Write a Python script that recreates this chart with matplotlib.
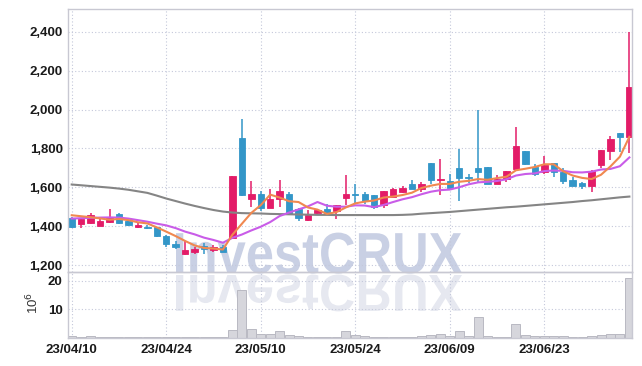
import matplotlib
matplotlib.use('Agg')
import matplotlib.pyplot as plt
import numpy as np
from matplotlib.textpath import TextPath
from matplotlib.patches import PathPatch
from matplotlib.font_manager import FontProperties
from matplotlib.transforms import Affine2D

plt.rcParams['font.family'] = ['Liberation Sans', 'DejaVu Sans']

# daily candles, 2023-04-10 .. 2023-07-06 (60 trading days)
opens = [1445, 1412, 1417, 1402, 1423, 1466, 1426, 1397, 1397, 1395,
         1353, 1309, 1257, 1268, 1298, 1281, 1293, 1342, 1853, 1539,
         1567, 1495, 1538, 1568, 1491, 1431, 1469, 1491, 1479, 1546,
         1567, 1565, 1560, 1508, 1551, 1577, 1620, 1594, 1726, 1637,
         1632, 1699, 1652, 1699, 1704, 1620, 1644, 1697, 1786, 1705,
         1680, 1723, 1680, 1637, 1623, 1608, 1714, 1786, 1880, 1859]
highs = [1447, 1445, 1471, 1443, 1488, 1471, 1428, 1417, 1409, 1397,
         1355, 1323, 1325, 1294, 1315, 1303, 1303, 1659, 1949, 1632,
         1580, 1594, 1640, 1575, 1493, 1486, 1488, 1517, 1510, 1666,
         1620, 1577, 1562, 1582, 1596, 1606, 1637, 1628, 1728, 1748,
         1668, 1795, 1668, 1997, 1706, 1662, 1685, 1911, 1788, 1719,
         1760, 1728, 1699, 1654, 1630, 1687, 1793, 1865, 1882, 2399]
lows = [1389, 1394, 1414, 1400, 1418, 1413, 1400, 1394, 1385, 1346,
        1294, 1284, 1255, 1257, 1257, 1268, 1266, 1340, 1555, 1500,
        1479, 1493, 1500, 1464, 1426, 1429, 1462, 1467, 1440, 1508,
        1517, 1513, 1491, 1496, 1549, 1569, 1592, 1577, 1620, 1560,
        1595, 1529, 1625, 1628, 1618, 1618, 1628, 1695, 1717, 1660,
        1668, 1654, 1620, 1606, 1594, 1577, 1702, 1740, 1782, 1777]
closes = [1397, 1436, 1457, 1428, 1450, 1417, 1407, 1405, 1394, 1351,
          1308, 1294, 1277, 1282, 1286, 1293, 1268, 1657, 1560, 1565,
          1495, 1539, 1580, 1466, 1443, 1457, 1486, 1469, 1508, 1565,
          1563, 1530, 1500, 1580, 1594, 1599, 1594, 1620, 1637, 1642,
          1597, 1649, 1647, 1680, 1620, 1645, 1683, 1812, 1719, 1668,
          1714, 1680, 1633, 1608, 1608, 1685, 1791, 1848, 1859, 2117]
# volume in millions of shares
volumes = [0.6, 0.15, 0.7, 0.15, 0.2, 0.15, 0.1, 0.1, 0.1, 0.15,
           0.2, 0.15, 0.2, 0.1, 0.1, 0.1, 0.15, 2.7, 16.8, 3.1,
           1.3, 1.3, 2.4, 0.9, 0.4, 0.3, 0.3, 0.3, 0.3, 2.4,
           0.9, 0.4, 0.3, 0.3, 0.3, 0.3, 0.3, 0.4, 0.9, 1.3,
           0.4, 2.4, 0.4, 7.2, 0.4, 0.3, 0.3, 4.8, 0.9, 0.4,
           0.4, 0.4, 0.4, 0.3, 0.3, 0.7, 0.9, 1.3, 1.3, 20.9]
# moving averages as drawn on the chart
ma5 = [1457, 1452, 1447, 1441, 1434, 1438, 1432, 1421, 1415, 1395,
       1373, 1350, 1325, 1302, 1289, 1286, 1281, 1357, 1413, 1469,
       1509, 1563, 1548, 1529, 1525, 1497, 1486, 1464, 1473, 1497,
       1518, 1527, 1533, 1548, 1553, 1561, 1573, 1597, 1609, 1618,
       1618, 1629, 1634, 1643, 1639, 1648, 1655, 1688, 1696, 1705,
       1719, 1719, 1683, 1661, 1649, 1643, 1665, 1708, 1758, 1860]
ma10 = [1440, 1442, 1444, 1445, 1446, 1445, 1440, 1432, 1424, 1414,
        1405, 1391, 1373, 1359, 1342, 1330, 1316, 1341, 1358, 1379,
        1398, 1422, 1453, 1471, 1487, 1503, 1525, 1506, 1501, 1501,
        1508, 1507, 1499, 1510, 1525, 1539, 1550, 1565, 1578, 1586,
        1589, 1601, 1616, 1626, 1629, 1633, 1642, 1661, 1669, 1672,
        1684, 1687, 1685, 1678, 1677, 1681, 1692, 1695, 1709, 1754]
ma60 = [1615, 1611, 1607, 1603, 1599, 1594, 1588, 1580, 1572, 1558,
        1543, 1530, 1517, 1505, 1494, 1484, 1476, 1471, 1468, 1467,
        1466, 1464, 1463, 1462, 1461, 1460, 1459, 1459, 1458, 1458,
        1458, 1458, 1458, 1458, 1458, 1459, 1461, 1465, 1468, 1471,
        1474, 1478, 1482, 1486, 1490, 1494, 1498, 1501, 1505, 1509,
        1513, 1517, 1521, 1525, 1530, 1534, 1539, 1544, 1549, 1553]
tick_pos = [0, 10, 20, 30, 40, 50]
tick_labels = ['23/04/10', '23/04/24', '23/05/10', '23/05/24', '23/06/09', '23/06/23']

up_color = '#e31c68'
down_color = '#3396c8'
grid_color = '#c4c8da'
spine_color = '#c8c8d2'
W, H = 642, 366

fig = plt.figure(figsize=(W / 100, H / 100), dpi=100)
ax = fig.add_axes([68.3 / W, (H - 272.3) / H, 564 / W, 263 / H])
axv = fig.add_axes([68.3 / W, (H - 337.5) / H, 564 / W, 65.2 / H], sharex=ax)

# watermark and its reflection
tp = TextPath((0, 0), 'InvestCRUX', size=100,
              prop=FontProperties(family='Liberation Sans', weight='bold'))
ext = tp.get_extents()
sx = (462 - 176) / ext.width
sy = (273 - 232) / ext.height
wm = Affine2D().translate(-ext.x0, 0).scale(sx, sy).translate(176, H - 273)
fig.add_artist(PathPatch(tp, transform=wm, facecolor='#c9d0e4', edgecolor='none', zorder=-1))
wm2 = Affine2D().translate(-ext.x0, 0).scale(sx, -sy * 0.9).translate(176, H - 275)
fig.add_artist(PathPatch(tp, transform=wm2, facecolor='#e6e8f0', edgecolor='none', zorder=-1))

x = np.arange(len(closes))
o = np.array(opens)
c = np.array(closes)
colors = [up_color if cc >= oo else down_color for oo, cc in zip(o, c)]

ax.vlines(x, lows, highs, colors=colors, linewidth=1.1, zorder=2)
body = np.maximum(np.abs(c - o), 3)
ax.bar(x, body, bottom=np.minimum(o, c), width=0.68, color=colors,
       edgecolor=colors, linewidth=0.6, zorder=2)

ax.plot(x, ma60, color='#858585', linewidth=1.5, zorder=3)
ax.plot(x, ma10, color='#c95ce8', linewidth=1.5, zorder=3)
ax.plot(x, ma5, color='#f08850', linewidth=1.5, zorder=3)

axv.bar(x, volumes, width=0.95, color='#d6d6dc', edgecolor='#b9b9c2', linewidth=0.7, zorder=2)

for a in (ax, axv):
    a.set_facecolor('none')
    for s in a.spines.values():
        s.set_color(spine_color)
        s.set_linewidth(1.0)
    a.grid(True, color=grid_color, linestyle=(0, (1, 2)), linewidth=0.8)
    a.set_axisbelow(True)
    a.tick_params(length=0, labelsize=9.5, labelcolor='#1a1a1a', pad=4)
    for lbl in a.get_xticklabels() + a.get_yticklabels():
        lbl.set_fontweight('bold')

ax.set_xlim(-0.36, 59.31)
ax.set_ylim(1164, 2515)
ax.set_yticks([1200, 1400, 1600, 1800, 2000, 2200, 2400])
ax.set_yticklabels(['1,200', '1,400', '1,600', '1,800', '2,000', '2,200', '2,400'],
                   fontweight='bold')
ax.tick_params(labelbottom=False)

axv.set_ylim(0, 23.0)
axv.set_yticks([10, 20])
axv.set_yticklabels(['10', '20'], fontweight='bold')
axv.set_xticks(tick_pos)
axv.set_xticklabels(tick_labels, fontweight='bold')
axv.tick_params(axis='x', pad=5)
fig.text(33 / W, (H - 303) / H, '10$^6$', rotation=90, ha='center', va='center',
         fontsize=9.5, color='#333333')

fig.savefig('out.png', dpi=100)
